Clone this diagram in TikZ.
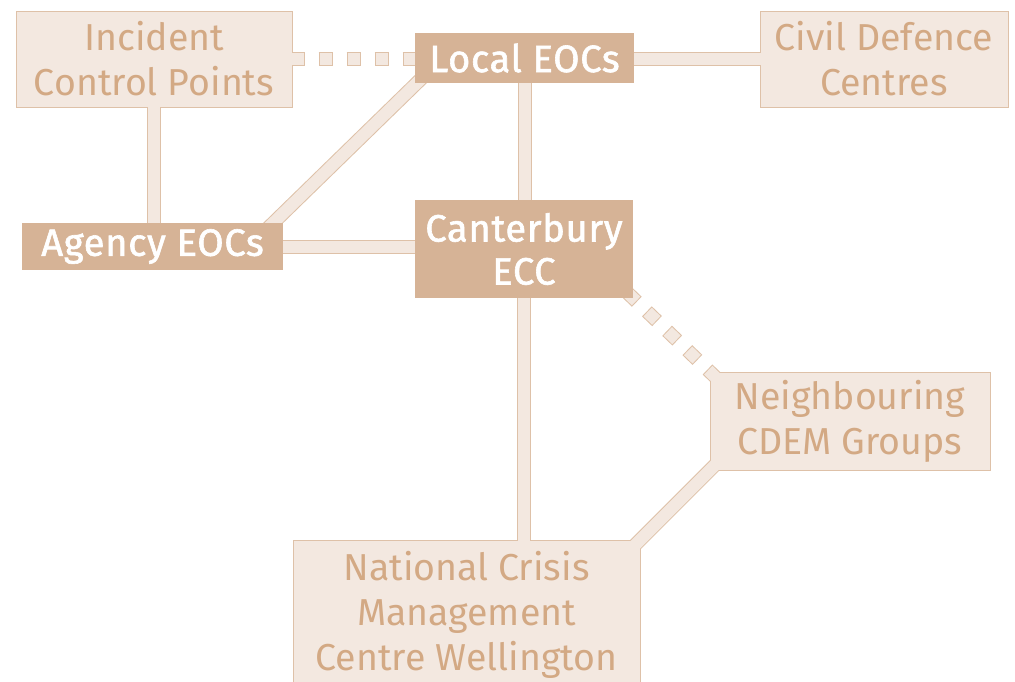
\documentclass[tikz,border=0pt]{standalone}
\usepackage{fontspec}
\setmainfont{Fira Sans}
\newfontfamily\medfont{Fira Sans}[FakeBold=1.6,LetterSpace=2]
\usetikzlibrary{calc}
\definecolor{lightfill}{HTML}{F3E8E0}
\definecolor{edgecol}{HTML}{DEC1A8}
\definecolor{darkfill}{HTML}{D6B396}
\definecolor{txtcol}{HTML}{D3A984}
\pgfdeclarelayer{back}
\pgfdeclarelayer{bg}
\pgfdeclarelayer{fg}
\pgfsetlayers{back,bg,main,fg}
\newcommand\conn[2]{%
  \begin{pgfonlayer}{bg}\draw[#1out] #2;\end{pgfonlayer}%
  \draw[#1in] #2;}
\begin{document}
\begin{tikzpicture}[x=1pt,y=-1pt,
  lightbox/.style={draw=edgecol, line width=1pt, fill=lightfill, text=txtcol,
    inner sep=0pt, align=center, font=\fontsize{37.5}{45}\selectfont},
  darkbox/.style={fill=darkfill, text=white, inner sep=0pt, align=center,
    font=\medfont\fontsize{38}{43}\selectfont},
  bandout/.style={draw=edgecol, line width=14pt},
  bandin/.style={draw=lightfill, line width=12pt},
  dashout/.style={draw=edgecol, line width=14pt, dash pattern=on 14pt off 14pt},
  dashin/.style={draw=lightfill, line width=12pt, dash pattern=on 12pt off 16pt, dash phase=27pt}]
\clip (0,0) rectangle (1015,681);
\begin{pgfonlayer}{back}
\fill[white] (0,0) rectangle (1015,681);
\end{pgfonlayer}
% light boxes
\node[lightbox, minimum width=276pt, minimum height=96pt] (icp) at (154,59) {Incident\\Control Points};
\node[lightbox, minimum width=248pt, minimum height=96pt] (cdc) at (884,59) {Civil Defence\\Centres};
\node[lightbox, minimum width=280pt, minimum height=98pt] (ncg) at (850,421) {Neighbouring\\CDEM Groups};
\node[lightbox, minimum width=347pt, minimum height=150pt] (ncmc) at (466.5,615) {National Crisis\\Management\\Centre Wellington};
% dark boxes
\begin{pgfonlayer}{fg}
\node[darkbox, minimum width=219pt, minimum height=50pt] (leoc) at (524.5,58) {Local EOCs};
\node[darkbox, minimum width=261pt, minimum height=47pt] (aeoc) at (152.5,246.5) {Agency EOCs};
\node[darkbox, minimum width=218pt, minimum height=98pt] (ecc) at (524,249) {Canterbury\\ECC};
\end{pgfonlayer}
% connectors
\conn{dash}{($(icp.east)+(-2,0)$) -- ($(icp.east -| leoc.west)+(10,0)$)}
\conn{band}{($(leoc.east |- cdc.west)+(-5,0)$) -- ($(cdc.west)+(3,0)$)}
\conn{band}{($(icp.south)+(0,-3)$) -- ($(icp.south |- aeoc.north)+(0,5)$)}
\conn{band}{($(leoc.south)+(0,-5)$) -- ($(leoc.south |- ecc.north)+(0,5)$)}
\conn{band}{($(aeoc.east)+(-5,0)$) -- ($(aeoc.east -| ecc.west)+(5,0)$)}
\conn{band}{($(ecc.south)+(0,-5)$) -- ($(ecc.south |- ncmc.north)+(0,3)$)}
\conn{band}{($(aeoc.north east)+(-17,7)$) -- ($(leoc.south west)+(9,-7)$)}
\conn{dash}{($(ecc.south east)+(-6.5,-6.2)$) -- ($(ncg.north west)+(5.8,5.5)$)}
\conn{band}{($(ncg.south west)+(6,-6)$) -- ($(ncmc.north east)+(-6,6)$)}
\end{tikzpicture}
\end{document}
